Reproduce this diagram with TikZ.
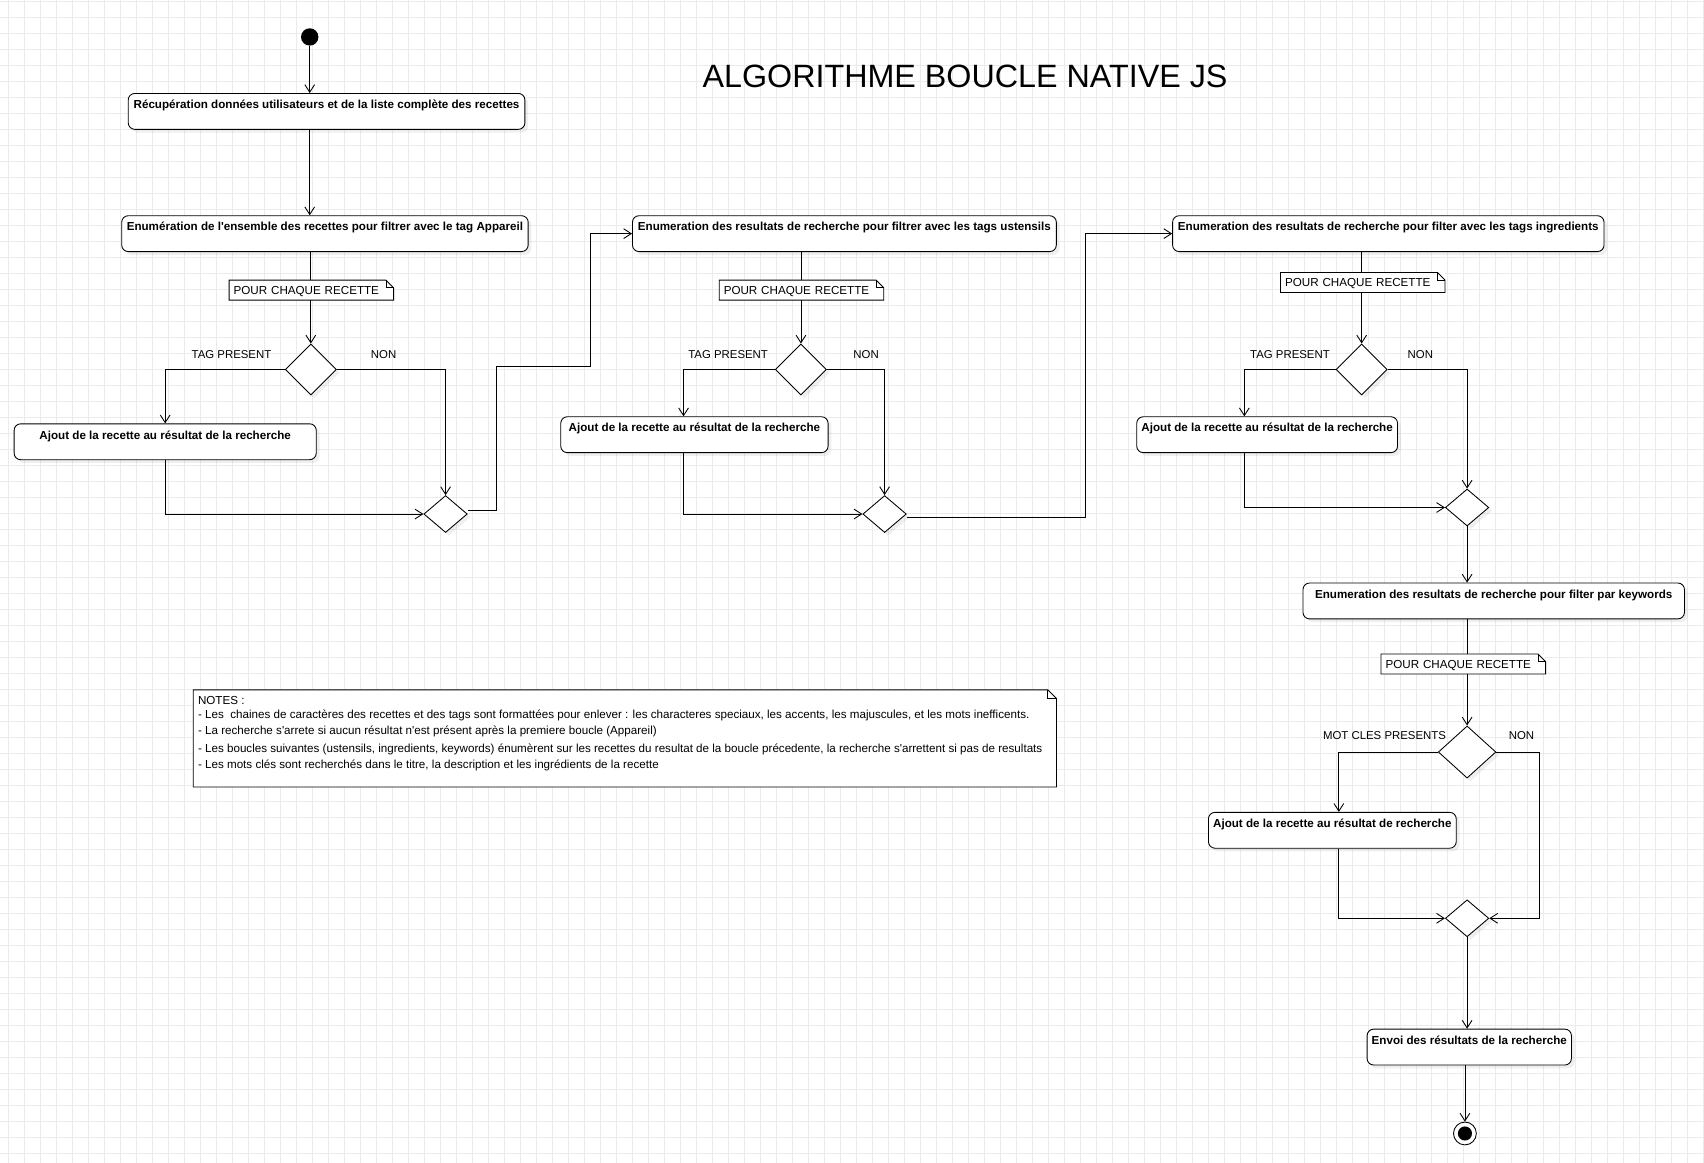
\documentclass[tikz,border=0pt]{standalone}
\usepackage{fontspec}
\setmainfont{Liberation Sans}[Ligatures=TeXOff]
\usetikzlibrary{shapes.geometric, arrows.meta, shadows}

\tikzset{
	etape/.style={draw, rectangle, rounded corners=6pt, fill=white, line width=0.8pt, font=\fontsize{10.7}{12}\selectfont\bfseries, inner xsep=2pt, inner ysep=4pt, text height=10pt, text depth=15pt, drop shadow={shadow xshift=3pt, shadow yshift=-3pt, opacity=0.12}},
	choix/.style={draw, diamond, fill=white, line width=0.8pt, inner sep=0pt, minimum width=47pt, minimum height=47pt, drop shadow={shadow xshift=3pt, shadow yshift=-3pt, opacity=0.12}},
	fusion/.style={choix, minimum width=40pt, minimum height=34pt},
	memo/.style={fill=white, inner xsep=4pt, inner ysep=0pt, minimum height=18pt, text width=143pt, align=left, text height=7.7pt, text depth=0pt, font=\fontsize{10.7}{12}\selectfont},
	lbl/.style={inner sep=0pt, text height=7.7pt, text depth=0pt, font=\fontsize{10.5}{12}\selectfont},
	ligne/.style={inner sep=0pt, anchor=base west, font=\fontsize{10.7}{12}\selectfont},
	lien/.style={line width=0.8pt},
	fleche/.style={lien, -{Straight Barb[length=7pt, width=9pt]}},
	grille/.style={draw=black!8, line width=0.9pt}
}

\begin{document}
\begin{tikzpicture}[x=1pt, y=-1pt]
	\useasboundingbox (0,0) rectangle (1568,1070);
	\fill[white] (0,0) rectangle (1568,1070);
	\foreach \i in {0,...,106}
		\draw[grille] ({7.6+14.72*\i},0) -- ++(0,1070);
	\foreach \j in {0,...,72}
		\draw[grille] (0,{1.2+14.72*\j}) -- ++(1568,0);

	\node[font=\fontsize{29.7}{34}\selectfont] (titre) at (888, 70) {ALGORITHME BOUCLE NATIVE JS};

	\node[circle, fill=black, minimum size=16pt, inner sep=0pt] (debut) at (285, 34) {};
	\node[etape, minimum width=365pt] (recup) at (300.5, 102.5) {Récupération données utilisateurs et de la liste complète des recettes};

	% boucle appareil
	\node[etape, minimum width=374pt] (appareil) at (299, 215) {Enumération de l'ensemble des recettes pour filtrer avec le tag Appareil};
	\node[memo] (memo1) at (286.5, 267) {POUR CHAQUE RECETTE};
	\node[choix] (d1) at (286, 340) {};
	\node[lbl] (oui1) at (213, 326) {TAG PRESENT};
	\node[lbl] (non1) at (353, 326) {NON};
	\node[etape, minimum width=278pt] (ajout1) at (152, 406.5) {Ajout de la recette au résultat de la recherche};
	\node[fusion] (m1) at (410, 473) {};

	% boucle ustensils
	\node[etape, minimum width=390pt] (ustensils) at (777, 215) {Enumeration des resultats de recherche pour filtrer avec les tags ustensils};
	\node[memo] (memo2) at (737.5, 267) {POUR CHAQUE RECETTE};
	\node[choix] (d2) at (737, 340) {};
	\node[lbl] (oui2) at (670, 326) {TAG PRESENT};
	\node[lbl] (non2) at (797, 326) {NON};
	\node[etape, minimum width=246pt] (ajout2) at (639, 400) {Ajout de la recette au résultat de la recherche};
	\node[fusion] (m2) at (814, 473) {};

	% boucle ingredients
	\node[etape, minimum width=397pt] (ingredients) at (1277.5, 215) {Enumeration des resultats de recherche pour filter avec les tags ingredients};
	\node[memo] (memo3) at (1254, 260) {POUR CHAQUE RECETTE};
	\node[choix] (d3) at (1253, 340) {};
	\node[lbl] (oui3) at (1187, 326) {TAG PRESENT};
	\node[lbl] (non3) at (1307, 326) {NON};
	\node[etape, minimum width=240pt] (ajout3) at (1166, 400) {Ajout de la recette au résultat de la recherche};
	\node[fusion] (m3) at (1350, 467) {};

	% boucle keywords
	\node[etape, minimum width=351pt] (keywords) at (1374.5, 553) {Enumeration des resultats de recherche pour filter par keywords};
	\node[memo] (memo4) at (1346.5, 611) {POUR CHAQUE RECETTE};
	\node[choix, minimum width=53pt, minimum height=48pt] (d4) at (1350, 692) {};
	\node[lbl] (oui4) at (1274, 677) {MOT CLES PRESENTS};
	\node[lbl] (non4) at (1400, 677) {NON};
	\node[etape, minimum width=228pt] (ajout4) at (1226, 764) {Ajout de la recette au résultat de recherche};
	\node[fusion] (m4) at (1350, 845) {};

	\node[etape, minimum width=188pt] (envoi) at (1352, 963.5) {Envoi des résultats de la recherche};
	\node[circle, draw, fill=white, line width=0.8pt, minimum size=21pt, inner sep=0pt] (fin) at (1348, 1043) {};
	\fill (fin.center) circle[radius=6.5pt];

	% notes
	\node[fill=white, minimum width=794pt, minimum height=89pt, inner sep=0pt] (notes) at (575, 679.5) {};
	\node[ligne] (n0) at (182, 648) {NOTES :};
	\node[ligne] (n1) at (182, 661) {- Les~ chaines de caractères des recettes et des tags sont formattées pour enlever : les characteres speciaux, les accents, les majuscules, et les mots inefficents.};
	\node[ligne] (n2) at (182, 676) {- La recherche s'arrete si aucun résultat n'est présent après la premiere boucle (Appareil)};
	\node[ligne] (n3) at (182, 692) {- Les boucles suivantes (ustensils, ingredients, keywords) énumèrent sur les recettes du resultat de la boucle précedente, la recherche s'arrettent si pas de resultats};
	\node[ligne] (n4) at (182, 707) {- Les mots clés sont recherchés dans le titre, la description et les ingrédients de la recette};

	\foreach \m/\f in {memo1/7, memo2/7, memo3/7, memo4/7, notes/8}{
		\draw[lien] (\m.south west) -- (\m.north west) -- ([xshift=-\f pt]\m.north east) -- ([yshift=-\f pt]\m.north east) -- (\m.south east) -- cycle;
		\draw[lien] ([xshift=-\f pt]\m.north east) -- ([xshift=-\f pt, yshift=-\f pt]\m.north east) -- ([yshift=-\f pt]\m.north east);
	}

	\coordinate (c1) at (457, 337);
	\coordinate (c2) at (543, 215);
	\coordinate (c3) at (999, 215);
	\coordinate (c4) at (1417, 692);

	\draw[fleche] (debut) -- (debut |- recup.north);
	\draw[fleche] (debut |- recup.south) -- (debut |- appareil.north);
	\draw[lien] (d1 |- appareil.south) -- (d1 |- memo1.north);
	\draw[fleche] (d1 |- memo1.south) -- (d1.north);
	\draw[fleche] (d1.west) -| (ajout1.north);
	\draw[fleche] (d1.east) -| (m1.north);
	\draw[fleche] (ajout1.south) |- (m1.west);
	\draw[fleche] ([yshift=3pt]m1.east) -| (c1) -| (c2) -- (ustensils.west);

	\draw[lien] (d2 |- ustensils.south) -- (d2 |- memo2.north);
	\draw[fleche] (d2 |- memo2.south) -- (d2.north);
	\draw[fleche] (d2.west) -| ([xshift=-10pt]ajout2.north);
	\draw[fleche] (d2.east) -| (m2.north);
	\draw[fleche] ([xshift=-10pt]ajout2.south) |- (m2.west);
	\draw[fleche] ([yshift=-3pt]m2.east) -| (c3) -- (ingredients.west);

	\draw[lien] (d3 |- ingredients.south) -- (d3 |- memo3.north);
	\draw[fleche] (d3 |- memo3.south) -- (d3.north);
	\draw[fleche] (d3.west) -| ([xshift=-21pt]ajout3.north);
	\draw[fleche] (d3.east) -| (m3.north);
	\draw[fleche] ([xshift=-21pt]ajout3.south) |- (m3.west);
	\draw[fleche] (m3.south) -- (m3 |- keywords.north);

	\draw[lien] (d4 |- keywords.south) -- (d4 |- memo4.north);
	\draw[fleche] (d4 |- memo4.south) -- (d4.north);
	\draw[fleche] (d4.west) -| ([xshift=6pt]ajout4.north);
	\draw[fleche] (d4.east) -- (c4) |- (m4.east);
	\draw[fleche] ([xshift=6pt]ajout4.south) |- (m4.west);
	\draw[fleche] (m4.south) -- (m4 |- envoi.north);
	\draw[fleche] (fin |- envoi.south) -- (fin.north);
\end{tikzpicture}
\end{document}
